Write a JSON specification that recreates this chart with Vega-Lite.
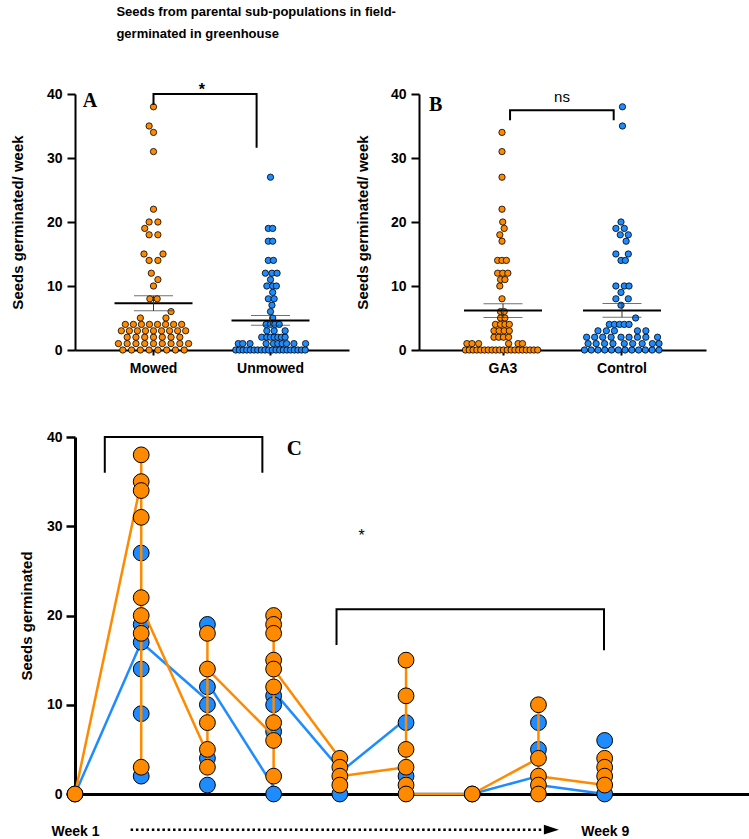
{
  "$schema": "https://vega.github.io/schema/vega-lite/v6.json",
  "background": "white",
  "padding": {"left": 10, "top": 6, "right": 0, "bottom": 0},
  "title": {
    "text": ["Seeds from parental sub-populations in field-", "germinated in greenhouse"],
    "anchor": "start",
    "font": "Liberation Sans",
    "fontSize": 13,
    "fontWeight": "bold",
    "lineHeight": 22,
    "color": "black",
    "dx": 106,
    "offset": 41
  },
  "datasets": {
    "a": [
      {"g":"Mowed","v":0,"o":-4.2},{"g":"Mowed","v":0,"o":-3},{"g":"Mowed","v":0,"o":-1.8},{"g":"Mowed","v":0,"o":-0.6},{"g":"Mowed","v":0,"o":0.6},{"g":"Mowed","v":0,"o":1.8},{"g":"Mowed","v":0,"o":3},{"g":"Mowed","v":0,"o":4.2},
      {"g":"Mowed","v":1,"o":-4.8},{"g":"Mowed","v":1,"o":-3.6},{"g":"Mowed","v":1,"o":-2.4},{"g":"Mowed","v":1,"o":-1.2},{"g":"Mowed","v":1,"o":0},{"g":"Mowed","v":1,"o":1.2},{"g":"Mowed","v":1,"o":2.4},{"g":"Mowed","v":1,"o":3.6},{"g":"Mowed","v":1,"o":4.8},
      {"g":"Mowed","v":2,"o":-3.6},{"g":"Mowed","v":2,"o":-2.4},{"g":"Mowed","v":2,"o":-1.2},{"g":"Mowed","v":2,"o":0},{"g":"Mowed","v":2,"o":1.2},{"g":"Mowed","v":2,"o":2.4},{"g":"Mowed","v":2,"o":3.6},
      {"g":"Mowed","v":3,"o":-4.4},{"g":"Mowed","v":3,"o":-3.3},{"g":"Mowed","v":3,"o":-2.2},{"g":"Mowed","v":3,"o":-1.1},{"g":"Mowed","v":3,"o":0},{"g":"Mowed","v":3,"o":1.1},{"g":"Mowed","v":3,"o":2.2},{"g":"Mowed","v":3,"o":3.3},{"g":"Mowed","v":3,"o":4.4},
      {"g":"Mowed","v":4,"o":-3.85},{"g":"Mowed","v":4,"o":-2.75},{"g":"Mowed","v":4,"o":-1.65},{"g":"Mowed","v":4,"o":-0.55},{"g":"Mowed","v":4,"o":0.55},{"g":"Mowed","v":4,"o":1.65},{"g":"Mowed","v":4,"o":2.75},{"g":"Mowed","v":4,"o":3.85},
      {"g":"Mowed","v":5,"o":-1.8},{"g":"Mowed","v":5,"o":1.7},{"g":"Mowed","v":6,"o":2.4},
      {"g":"Mowed","v":8,"o":-0.5},{"g":"Mowed","v":8,"o":0.5},{"g":"Mowed","v":10,"o":0},{"g":"Mowed","v":11,"o":0.6},{"g":"Mowed","v":12,"o":-0.3},
      {"g":"Mowed","v":14,"o":-0.6},{"g":"Mowed","v":14,"o":0.6},{"g":"Mowed","v":15,"o":-1.3},{"g":"Mowed","v":15,"o":1.3},
      {"g":"Mowed","v":18,"o":-0.6},{"g":"Mowed","v":18,"o":0.6},{"g":"Mowed","v":19,"o":-1.2},{"g":"Mowed","v":20,"o":-0.6},{"g":"Mowed","v":20,"o":0.6},
      {"g":"Mowed","v":22,"o":0},{"g":"Mowed","v":31,"o":0},{"g":"Mowed","v":34,"o":0},{"g":"Mowed","v":35,"o":-0.6},{"g":"Mowed","v":38,"o":0},
      {"g":"Unmowed","v":0,"o":-4.75},{"g":"Unmowed","v":0,"o":-4.25},{"g":"Unmowed","v":0,"o":-3.75},{"g":"Unmowed","v":0,"o":-3.25},{"g":"Unmowed","v":0,"o":-2.75},{"g":"Unmowed","v":0,"o":-2.25},{"g":"Unmowed","v":0,"o":-1.75},{"g":"Unmowed","v":0,"o":-1.25},{"g":"Unmowed","v":0,"o":-0.75},{"g":"Unmowed","v":0,"o":-0.25},
      {"g":"Unmowed","v":0,"o":0.25},{"g":"Unmowed","v":0,"o":0.75},{"g":"Unmowed","v":0,"o":1.25},{"g":"Unmowed","v":0,"o":1.75},{"g":"Unmowed","v":0,"o":2.25},{"g":"Unmowed","v":0,"o":2.75},{"g":"Unmowed","v":0,"o":3.25},{"g":"Unmowed","v":0,"o":3.75},{"g":"Unmowed","v":0,"o":4.25},{"g":"Unmowed","v":0,"o":4.75},
      {"g":"Unmowed","v":1,"o":-4.4},{"g":"Unmowed","v":1,"o":-3.8},{"g":"Unmowed","v":1,"o":-2.8},{"g":"Unmowed","v":1,"o":-0.6},{"g":"Unmowed","v":1,"o":0.4},{"g":"Unmowed","v":1,"o":1.0},{"g":"Unmowed","v":1,"o":1.6},{"g":"Unmowed","v":1,"o":2.2},{"g":"Unmowed","v":1,"o":3.2},{"g":"Unmowed","v":1,"o":4.8},
      {"g":"Unmowed","v":2,"o":-1.2},{"g":"Unmowed","v":2,"o":-0.5},{"g":"Unmowed","v":2,"o":0},{"g":"Unmowed","v":2,"o":0.5},{"g":"Unmowed","v":2,"o":1.0},{"g":"Unmowed","v":2,"o":1.5},{"g":"Unmowed","v":2,"o":2.0},
      {"g":"Unmowed","v":3,"o":-0.5},{"g":"Unmowed","v":3,"o":0.5},{"g":"Unmowed","v":3,"o":2.0},
      {"g":"Unmowed","v":4,"o":-0.6},{"g":"Unmowed","v":4,"o":0},{"g":"Unmowed","v":4,"o":0.6},{"g":"Unmowed","v":4,"o":1.2},
      {"g":"Unmowed","v":5,"o":0.3},{"g":"Unmowed","v":6,"o":0},{"g":"Unmowed","v":7,"o":0.2},{"g":"Unmowed","v":8,"o":-0.3},{"g":"Unmowed","v":8,"o":0.5},{"g":"Unmowed","v":9,"o":0.3},
      {"g":"Unmowed","v":10,"o":-0.5},{"g":"Unmowed","v":10,"o":0.3},{"g":"Unmowed","v":10,"o":0.8},{"g":"Unmowed","v":11,"o":0},
      {"g":"Unmowed","v":12,"o":-0.7},{"g":"Unmowed","v":12,"o":0.2},{"g":"Unmowed","v":12,"o":0.9},
      {"g":"Unmowed","v":14,"o":-0.3},{"g":"Unmowed","v":14,"o":0.4},{"g":"Unmowed","v":17,"o":-0.3},{"g":"Unmowed","v":17,"o":0.3},{"g":"Unmowed","v":19,"o":-0.3},{"g":"Unmowed","v":19,"o":0.3},{"g":"Unmowed","v":27,"o":0}
    ],
    "b": [
      {"g":"GA3","v":0,"o":-5},{"g":"GA3","v":0,"o":-4.48},{"g":"GA3","v":0,"o":-3.96},{"g":"GA3","v":0,"o":-3.44},{"g":"GA3","v":0,"o":-2.92},{"g":"GA3","v":0,"o":-2.4},{"g":"GA3","v":0,"o":-1.88},{"g":"GA3","v":0,"o":-1.36},{"g":"GA3","v":0,"o":-0.84},{"g":"GA3","v":0,"o":-0.32},
      {"g":"GA3","v":0,"o":0.2},{"g":"GA3","v":0,"o":0.72},{"g":"GA3","v":0,"o":1.24},{"g":"GA3","v":0,"o":1.76},{"g":"GA3","v":0,"o":2.28},{"g":"GA3","v":0,"o":2.8},{"g":"GA3","v":0,"o":3.32},{"g":"GA3","v":0,"o":3.84},{"g":"GA3","v":0,"o":4.36},{"g":"GA3","v":0,"o":4.88},
      {"g":"GA3","v":1,"o":-4.8},{"g":"GA3","v":1,"o":-4.1},{"g":"GA3","v":1,"o":-3.2},{"g":"GA3","v":1,"o":0.9},{"g":"GA3","v":1,"o":2.2},{"g":"GA3","v":1,"o":2.8},
      {"g":"GA3","v":2,"o":-1.1},{"g":"GA3","v":2,"o":-0.45},{"g":"GA3","v":2,"o":0.2},{"g":"GA3","v":2,"o":0.9},
      {"g":"GA3","v":3,"o":-1.1},{"g":"GA3","v":3,"o":-0.4},{"g":"GA3","v":3,"o":0.3},{"g":"GA3","v":3,"o":1.0},
      {"g":"GA3","v":4,"o":-0.9},{"g":"GA3","v":4,"o":-0.2},{"g":"GA3","v":4,"o":0.4},{"g":"GA3","v":4,"o":1.0},
      {"g":"GA3","v":5,"o":-0.2},{"g":"GA3","v":5,"o":0.4},{"g":"GA3","v":6,"o":-0.2},{"g":"GA3","v":6,"o":0.3},{"g":"GA3","v":8,"o":0},{"g":"GA3","v":10,"o":-0.3},
      {"g":"GA3","v":11,"o":-0.2},{"g":"GA3","v":11,"o":0.4},{"g":"GA3","v":12,"o":-0.6},{"g":"GA3","v":12,"o":0.1},{"g":"GA3","v":12,"o":0.8},
      {"g":"GA3","v":14,"o":-0.6},{"g":"GA3","v":14,"o":0},{"g":"GA3","v":14,"o":0.6},
      {"g":"GA3","v":17,"o":0},{"g":"GA3","v":18,"o":-0.3},{"g":"GA3","v":19,"o":0.3},{"g":"GA3","v":20,"o":0.1},{"g":"GA3","v":22,"o":0},{"g":"GA3","v":27,"o":0},{"g":"GA3","v":31,"o":0},{"g":"GA3","v":34,"o":0},
      {"g":"Control","v":0,"o":-5},{"g":"Control","v":0,"o":-4.07},{"g":"Control","v":0,"o":-3.15},{"g":"Control","v":0,"o":-2.22},{"g":"Control","v":0,"o":-1.3},{"g":"Control","v":0,"o":-0.37},{"g":"Control","v":0,"o":0.56},{"g":"Control","v":0,"o":1.48},{"g":"Control","v":0,"o":2.41},{"g":"Control","v":0,"o":3.33},{"g":"Control","v":0,"o":4.26},{"g":"Control","v":0,"o":5.2},
      {"g":"Control","v":1,"o":-4.5},{"g":"Control","v":1,"o":-3.4},{"g":"Control","v":1,"o":-2.25},{"g":"Control","v":1,"o":-1.1},{"g":"Control","v":1,"o":0.45},{"g":"Control","v":1,"o":1.6},{"g":"Control","v":1,"o":2.9},{"g":"Control","v":1,"o":4.3},{"g":"Control","v":1,"o":5.2},
      {"g":"Control","v":2,"o":-4.7},{"g":"Control","v":2,"o":-3.6},{"g":"Control","v":2,"o":-2.5},{"g":"Control","v":2,"o":-1.35},{"g":"Control","v":2,"o":0},{"g":"Control","v":2,"o":1.1},{"g":"Control","v":2,"o":2.25},{"g":"Control","v":2,"o":3.4},{"g":"Control","v":2,"o":5.0},
      {"g":"Control","v":3,"o":-3.15},{"g":"Control","v":3,"o":-2.0},{"g":"Control","v":3,"o":-0.9},{"g":"Control","v":3,"o":2.25},{"g":"Control","v":3,"o":3.4},
      {"g":"Control","v":4,"o":-1.6},{"g":"Control","v":4,"o":-0.9},{"g":"Control","v":4,"o":-0.2},{"g":"Control","v":4,"o":0.45},{"g":"Control","v":4,"o":1.1},
      {"g":"Control","v":5,"o":2.0},{"g":"Control","v":7,"o":0},{"g":"Control","v":8,"o":-0.7},{"g":"Control","v":8,"o":1.0},{"g":"Control","v":9,"o":0},
      {"g":"Control","v":10,"o":-0.7},{"g":"Control","v":10,"o":0.45},{"g":"Control","v":10,"o":1.1},
      {"g":"Control","v":14,"o":0},{"g":"Control","v":14,"o":0.6},{"g":"Control","v":15,"o":-0.7},{"g":"Control","v":15,"o":1.0},
      {"g":"Control","v":17,"o":0.7},{"g":"Control","v":18,"o":-0.1},{"g":"Control","v":18,"o":1.0},{"g":"Control","v":19,"o":-0.7},{"g":"Control","v":19,"o":0.45},{"g":"Control","v":20,"o":0},
      {"g":"Control","v":35,"o":0.2},{"g":"Control","v":38,"o":0.2}
    ],
    "abr": [
      {"g":"Mowed","o":0,"v":38.3,"k":1},{"g":"Mowed","o":0,"v":40,"k":2},{"g":"Unmowed","o":-1.9,"v":40,"k":3},{"g":"Unmowed","o":-1.9,"v":31.6,"k":4}
    ],
    "bbr": [
      {"g":"GA3","o":1.1,"v":35.9,"k":1},{"g":"GA3","o":1.1,"v":37.45,"k":2},{"g":"Control","o":-1.0,"v":37.45,"k":3},{"g":"Control","o":-1.0,"v":35.9,"k":4}
    ],
    "c": [
      {"s":"Unmowed","w":1,"v":0},
      {"s":"Unmowed","w":2,"v":27},{"s":"Unmowed","w":2,"v":19},{"s":"Unmowed","w":2,"v":17},{"s":"Unmowed","w":2,"v":14},{"s":"Unmowed","w":2,"v":9},{"s":"Unmowed","w":2,"v":2},
      {"s":"Unmowed","w":3,"v":19},{"s":"Unmowed","w":3,"v":12},{"s":"Unmowed","w":3,"v":10},{"s":"Unmowed","w":3,"v":4},{"s":"Unmowed","w":3,"v":1},
      {"s":"Unmowed","w":4,"v":11},{"s":"Unmowed","w":4,"v":10},{"s":"Unmowed","w":4,"v":7},{"s":"Unmowed","w":4,"v":0},
      {"s":"Unmowed","w":5,"v":0},
      {"s":"Unmowed","w":6,"v":8},{"s":"Unmowed","w":6,"v":2},
      {"s":"Unmowed","w":7,"v":0},
      {"s":"Unmowed","w":8,"v":8},{"s":"Unmowed","w":8,"v":5},
      {"s":"Unmowed","w":9,"v":6},{"s":"Unmowed","w":9,"v":0},
      {"s":"Mowed","w":1,"v":0},
      {"s":"Mowed","w":2,"v":38},{"s":"Mowed","w":2,"v":35},{"s":"Mowed","w":2,"v":34},{"s":"Mowed","w":2,"v":31},{"s":"Mowed","w":2,"v":22},{"s":"Mowed","w":2,"v":20},{"s":"Mowed","w":2,"v":18},{"s":"Mowed","w":2,"v":3},
      {"s":"Mowed","w":3,"v":18},{"s":"Mowed","w":3,"v":14},{"s":"Mowed","w":3,"v":8},{"s":"Mowed","w":3,"v":5},{"s":"Mowed","w":3,"v":3},
      {"s":"Mowed","w":4,"v":20},{"s":"Mowed","w":4,"v":19},{"s":"Mowed","w":4,"v":18},{"s":"Mowed","w":4,"v":15},{"s":"Mowed","w":4,"v":14},{"s":"Mowed","w":4,"v":12},{"s":"Mowed","w":4,"v":8},{"s":"Mowed","w":4,"v":6},{"s":"Mowed","w":4,"v":2},
      {"s":"Mowed","w":5,"v":4},{"s":"Mowed","w":5,"v":3},{"s":"Mowed","w":5,"v":2},{"s":"Mowed","w":5,"v":1},
      {"s":"Mowed","w":6,"v":15},{"s":"Mowed","w":6,"v":11},{"s":"Mowed","w":6,"v":5},{"s":"Mowed","w":6,"v":3},{"s":"Mowed","w":6,"v":1},{"s":"Mowed","w":6,"v":0},
      {"s":"Mowed","w":7,"v":0},
      {"s":"Mowed","w":8,"v":10},{"s":"Mowed","w":8,"v":4},{"s":"Mowed","w":8,"v":2},{"s":"Mowed","w":8,"v":1},{"s":"Mowed","w":8,"v":0},
      {"s":"Mowed","w":9,"v":4},{"s":"Mowed","w":9,"v":3},{"s":"Mowed","w":9,"v":2},{"s":"Mowed","w":9,"v":1}
    ],
    "clinks": [
      {"s":"Unmowed","w":1,"v":0,"w2":2,"v2":17},{"s":"Unmowed","w":2,"v":17,"w2":3,"v2":10.5},{"s":"Unmowed","w":3,"v":12.5,"w2":4,"v2":0.8},{"s":"Unmowed","w":4,"v":11.5,"w2":5,"v2":2.8},
      {"s":"Unmowed","w":5,"v":2.4,"w2":6,"v2":8.4},{"s":"Unmowed","w":6,"v":0,"w2":7,"v2":0},{"s":"Unmowed","w":7,"v":0,"w2":8,"v2":2},{"s":"Unmowed","w":8,"v":1,"w2":9,"v2":0},
      {"s":"Mowed","w":1,"v":0,"w2":2,"v2":35},{"s":"Mowed","w":2,"v":21,"w2":3,"v2":4.5},{"s":"Mowed","w":3,"v":14,"w2":4,"v2":6.5},{"s":"Mowed","w":4,"v":14,"w2":5,"v2":4},
      {"s":"Mowed","w":5,"v":2,"w2":6,"v2":3},{"s":"Mowed","w":6,"v":0,"w2":7,"v2":0},{"s":"Mowed","w":7,"v":0,"w2":8,"v2":4},{"s":"Mowed","w":8,"v":2,"w2":9,"v2":1}
    ],
    "cbr": [
      {"id":1,"k":1,"w":1.45,"v":36},{"id":1,"k":2,"w":1.45,"v":40},{"id":1,"k":3,"w":3.83,"v":40},{"id":1,"k":4,"w":3.83,"v":36},
      {"id":2,"k":1,"w":4.95,"v":16.7},{"id":2,"k":2,"w":4.95,"v":20.7},{"id":2,"k":3,"w":8.99,"v":20.7},{"id":2,"k":4,"w":8.99,"v":16.1}
    ],
    "one": [{}]
  },
  "concat": [
    {
      "hconcat": [
        {
          "width": 274,
          "height": 256,
          "layer": [
            {
              "data": {"name": "a"},
              "mark": {"type": "point", "filled": true, "size": 40, "stroke": "black", "strokeWidth": 0.8, "opacity": 1},
              "encoding": {
                "x": {"field": "g", "type": "nominal", "scale": {"domain": ["Mowed", "Unmowed"], "paddingInner": 0, "paddingOuter": 0.171}, "axis": {"title": null, "labelAngle": 0, "tickSize": 5, "labelPadding": 6}},
                "xOffset": {"field": "o", "type": "quantitative", "scale": {"domain": [-8, 8]}},
                "y": {"field": "v", "type": "quantitative", "scale": {"domain": [0, 40], "nice": false, "padding": 0}, "axis": {"values": [0, 10, 20, 30, 40], "tickSize": 8, "labelPadding": 5, "title": "Seeds germinated/ week", "titlePadding": 21}},
                "fill": {"field": "g", "type": "nominal", "scale": {"domain": ["Mowed", "Unmowed"], "range": ["#FF8A00", "#1E8CFF"]}, "legend": null}
              }
            },
            {
              "data": {"name": "a"},
              "mark": {"type": "tick", "color": "black", "thickness": 2, "size": 78, "opacity": 1},
              "encoding": {
                "x": {"field": "g", "type": "nominal"},
                "y": {"aggregate": "mean", "field": "v", "type": "quantitative", "title": "Seeds germinated/ week"}
              }
            },
            {
              "data": {"name": "a"},
              "mark": {"type": "errorbar", "extent": "stderr", "ticks": {"size": 39, "thickness": 1, "color": "#333333"}, "rule": {"color": "#333333", "strokeWidth": 1}},
              "encoding": {
                "x": {"field": "g", "type": "nominal"},
                "y": {"field": "v", "type": "quantitative", "title": "Seeds germinated/ week"}
              }
            },
            {
              "data": {"name": "abr"},
              "mark": {"type": "line", "color": "black", "strokeWidth": 2},
              "encoding": {
                "x": {"field": "g", "type": "nominal"},
                "xOffset": {"field": "o", "type": "quantitative"},
                "y": {"field": "v", "type": "quantitative", "title": "Seeds germinated/ week"},
                "order": {"field": "k"}
              }
            },
            {
              "data": {"name": "one"},
              "mark": {"type": "text", "text": "*", "font": "Liberation Sans", "fontSize": 16, "fontWeight": "bold", "baseline": "alphabetic"},
              "encoding": {"x": {"datum": "Mowed", "type": "nominal"}, "xOffset": {"datum": 6.6}, "y": {"datum": 39.8}}
            },
            {
              "data": {"name": "one"},
              "mark": {"type": "text", "text": "A", "font": "Liberation Serif", "fontSize": 20, "fontWeight": "bold", "align": "left", "baseline": "alphabetic"},
              "encoding": {"x": {"datum": "Mowed", "type": "nominal"}, "xOffset": {"datum": -9.66}, "y": {"datum": 38}}
            }
          ]
        },
        {
          "width": 287,
          "height": 256,
          "layer": [
            {
              "data": {"name": "b"},
              "mark": {"type": "point", "filled": true, "size": 40, "stroke": "black", "strokeWidth": 0.8, "opacity": 1},
              "encoding": {
                "x": {"field": "g", "type": "nominal", "scale": {"domain": ["GA3", "Control"], "paddingInner": 0, "paddingOuter": 0.206}, "axis": {"title": null, "labelAngle": 0, "tickSize": 5, "labelPadding": 6}},
                "xOffset": {"field": "o", "type": "quantitative", "scale": {"domain": [-8, 8]}},
                "y": {"field": "v", "type": "quantitative", "scale": {"domain": [0, 40], "nice": false, "padding": 0}, "axis": {"values": [0, 10, 20, 30, 40], "tickSize": 8, "labelPadding": 5, "title": "Seeds germinated/ week", "titlePadding": 20}},
                "fill": {"field": "g", "type": "nominal", "scale": {"domain": ["GA3", "Control"], "range": ["#FF8A00", "#1E8CFF"]}, "legend": null}
              }
            },
            {
              "data": {"name": "b"},
              "mark": {"type": "tick", "color": "black", "thickness": 2, "size": 78, "opacity": 1},
              "encoding": {
                "x": {"field": "g", "type": "nominal"},
                "y": {"aggregate": "mean", "field": "v", "type": "quantitative", "title": "Seeds germinated/ week"}
              }
            },
            {
              "data": {"name": "b"},
              "mark": {"type": "errorbar", "extent": "stderr", "ticks": {"size": 39, "thickness": 1, "color": "#333333"}, "rule": {"color": "#333333", "strokeWidth": 1}},
              "encoding": {
                "x": {"field": "g", "type": "nominal"},
                "y": {"field": "v", "type": "quantitative", "title": "Seeds germinated/ week"}
              }
            },
            {
              "data": {"name": "bbr"},
              "mark": {"type": "line", "color": "black", "strokeWidth": 2},
              "encoding": {
                "x": {"field": "g", "type": "nominal"},
                "xOffset": {"field": "o", "type": "quantitative"},
                "y": {"field": "v", "type": "quantitative", "title": "Seeds germinated/ week"},
                "order": {"field": "k"}
              }
            },
            {
              "data": {"name": "one"},
              "mark": {"type": "text", "text": "ns", "font": "Liberation Sans", "fontSize": 15, "baseline": "alphabetic"},
              "encoding": {"x": {"datum": "GA3", "type": "nominal"}, "xOffset": {"datum": 8.2}, "y": {"datum": 38.8}}
            },
            {
              "data": {"name": "one"},
              "mark": {"type": "text", "text": "B", "font": "Liberation Serif", "fontSize": 20, "fontWeight": "bold", "align": "left", "baseline": "alphabetic"},
              "encoding": {"x": {"datum": "GA3", "type": "nominal"}, "xOffset": {"datum": -10}, "y": {"datum": 37.3}}
            }
          ]
        }
      ],
      "spacing": 6
    },
    {
      "width": 674,
      "height": 357,
      "layer": [
        {
          "data": {"name": "clinks"},
          "transform": [{"filter": "datum.s == 'Unmowed'"}],
          "mark": {"type": "rule", "color": "#1E8CFF", "strokeWidth": 2.5},
          "encoding": {
            "x": {"field": "w", "type": "quantitative", "scale": {"domain": [1, 11.18], "nice": false, "zero": false, "padding": 0}, "axis": {"values": [1, 9], "labelExpr": "'Week ' + datum.value", "ticks": false, "labelPadding": 30, "labelFlush": false, "title": null, "domainWidth": 3}},
            "x2": {"field": "w2"},
            "y": {"field": "v", "type": "quantitative", "scale": {"domain": [0, 40], "nice": false, "padding": 0}, "axis": {"values": [0, 10, 20, 30, 40], "tickSize": 9, "tickWidth": 2.5, "domainWidth": 3, "labelPadding": 4, "title": "Seeds germinated", "titlePadding": 12}},
            "y2": {"field": "v2"}
          }
        },
        {
          "data": {"name": "c"},
          "transform": [{"filter": "datum.s == 'Unmowed'"}],
          "mark": {"type": "point", "filled": true, "size": 250, "fill": "#1E8CFF", "stroke": "black", "strokeWidth": 1, "opacity": 1},
          "encoding": {
            "x": {"field": "w", "type": "quantitative"},
            "y": {"field": "v", "type": "quantitative"}
          }
        },
        {
          "data": {"name": "c"},
          "transform": [{"filter": "datum.s == 'Mowed'"}],
          "mark": {"type": "rule", "color": "#FF8A00", "strokeWidth": 2.5},
          "encoding": {
            "x": {"field": "w", "type": "quantitative"},
            "y": {"aggregate": "min", "field": "v", "type": "quantitative"},
            "y2": {"aggregate": "max", "field": "v"}
          }
        },
        {
          "data": {"name": "clinks"},
          "transform": [{"filter": "datum.s == 'Mowed'"}],
          "mark": {"type": "rule", "color": "#FF8A00", "strokeWidth": 2.5},
          "encoding": {
            "x": {"field": "w", "type": "quantitative"},
            "x2": {"field": "w2"},
            "y": {"field": "v", "type": "quantitative"},
            "y2": {"field": "v2"}
          }
        },
        {
          "data": {"name": "c"},
          "transform": [{"filter": "datum.s == 'Mowed'"}],
          "mark": {"type": "point", "filled": true, "size": 250, "fill": "#FF8A00", "stroke": "black", "strokeWidth": 1, "opacity": 1},
          "encoding": {
            "x": {"field": "w", "type": "quantitative"},
            "y": {"field": "v", "type": "quantitative"}
          }
        },
        {
          "data": {"name": "cbr"},
          "mark": {"type": "line", "color": "black", "strokeWidth": 2},
          "encoding": {
            "x": {"field": "w", "type": "quantitative"},
            "y": {"field": "v", "type": "quantitative"},
            "detail": {"field": "id"},
            "order": {"field": "k"}
          }
        },
        {
          "data": {"name": "one"},
          "mark": {"type": "text", "text": "*", "font": "Liberation Sans", "fontSize": 16, "baseline": "alphabetic"},
          "encoding": {"x": {"datum": 5.33}, "y": {"datum": 28.4}}
        },
        {
          "data": {"name": "one"},
          "mark": {"type": "text", "text": "C", "font": "Liberation Serif", "fontSize": 21, "fontWeight": "bold", "align": "left", "baseline": "alphabetic"},
          "encoding": {"x": {"datum": 4.2}, "y": {"datum": 38}}
        },
        {
          "data": {"name": "one"},
          "mark": {"type": "rule", "color": "black", "strokeWidth": 2.5, "strokeDash": [2.5, 2.8]},
          "encoding": {"x": {"datum": 1.84}, "x2": {"datum": 8.12}, "y": {"datum": -4}}
        },
        {
          "data": {"name": "one"},
          "mark": {"type": "point", "shape": "M-1,-0.65L1,0L-1,0.65Z", "filled": true, "color": "black", "size": 225, "opacity": 1},
          "encoding": {"x": {"datum": 8.195}, "y": {"datum": -4}}
        }
      ]
    }
  ],
  "columns": 1,
  "spacing": 55,
  "align": "none",
  "config": {
    "view": {"stroke": null},
    "font": "Liberation Sans",
    "axis": {
      "domainColor": "black",
      "tickColor": "black",
      "labelColor": "black",
      "titleColor": "black",
      "labelFont": "Liberation Sans",
      "titleFont": "Liberation Sans",
      "labelFontWeight": "bold",
      "titleFontWeight": "bold",
      "labelFontSize": 14,
      "titleFontSize": 15,
      "grid": false,
      "domainWidth": 2,
      "tickWidth": 2
    }
  }
}
